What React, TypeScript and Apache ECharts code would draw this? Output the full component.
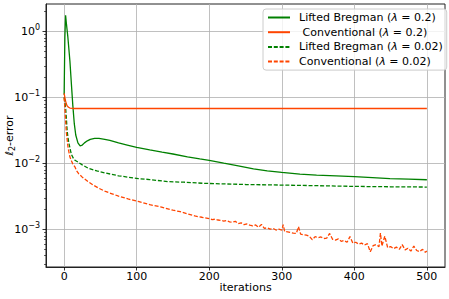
import React, { useEffect, useRef } from "react";
import * as echarts from "echarts";

const seriesNames = [
  "Lifted Bregman (λ = 0.2)",
  " Conventional (λ = 0.2)",
  "Lifted Bregman (λ = 0.02)",
  "Conventional (λ = 0.02)",
];

const lbSolidIter = [0, 1, 2, 3, 5, 8, 10, 12, 14, 16, 19, 22, 25, 28, 32, 36, 42, 48, 56, 63, 75, 87, 100, 118, 135, 150, 170, 187, 200, 220, 240, 261, 280, 300, 325, 348, 375, 400, 425, 449, 475, 500];
const lbSolidErr = [0.11, 0.8, 1.75, 1.35, 0.85, 0.35, 0.16, 0.075, 0.04, 0.027, 0.0205, 0.0185, 0.019, 0.0205, 0.022, 0.0232, 0.0239, 0.0239, 0.0232, 0.0224, 0.0205, 0.019, 0.0175, 0.016, 0.0148, 0.0139, 0.0126, 0.0117, 0.0111, 0.0101, 0.0092, 0.0083, 0.0077, 0.0073, 0.0069, 0.00667, 0.0065, 0.0063, 0.0061, 0.0059, 0.0058, 0.00566];

const convSolidIter = [0, 1, 2, 3, 4, 6, 8, 12, 20, 50, 100, 200, 300, 400, 500];
const convSolidErr = [0.115, 0.1, 0.088, 0.08, 0.075, 0.071, 0.069, 0.068, 0.068, 0.068, 0.068, 0.068, 0.068, 0.068, 0.068];

const lbDashIter = [0, 2, 3, 4, 5, 6, 8, 10, 13, 15, 19, 25, 33, 45, 56, 75, 102, 118, 143, 165, 192, 220, 250, 300, 350, 400, 450, 500];
const lbDashErr = [0.1, 0.07, 0.05, 0.033, 0.026, 0.022, 0.017, 0.0137, 0.0118, 0.0112, 0.0105, 0.0095, 0.0085, 0.0077, 0.0072, 0.0065, 0.0059, 0.0057, 0.0053, 0.0052, 0.005, 0.0049, 0.0048, 0.0047, 0.0046, 0.00449, 0.00443, 0.00439];

const convDashIter = [0, 1, 2, 3, 4, 5, 6, 8, 10, 12, 15, 17, 20, 25, 33, 40, 48, 56, 65, 75, 88, 102, 118, 133, 150, 160, 170, 180, 190,
  200, 204, 208, 212, 216, 220, 224, 228, 232, 236, 240, 244, 248, 252, 256, 260, 264, 268, 272, 276, 280, 284, 288, 292, 296,
  300, 302, 304, 308, 312, 316, 320, 323, 326, 330, 334, 338, 342, 346, 350, 354, 358, 362, 366, 370, 374, 378, 382, 386, 390,
  394, 398, 402, 406, 410, 414, 418, 422, 426, 430, 434, 436, 438, 442, 446, 450, 454, 458, 462, 466, 470, 474, 478, 482, 486,
  490, 494, 498, 500];
const convDashErr = [0.1, 0.07, 0.045, 0.03, 0.024, 0.019, 0.016, 0.0125, 0.011, 0.0098, 0.0088, 0.0078, 0.007, 0.0062, 0.0053, 0.0047, 0.0042, 0.0038, 0.0035, 0.0032, 0.0029, 0.00266, 0.00237, 0.0022, 0.00196, 0.00186, 0.00172, 0.0016, 0.00153,
  0.00146, 0.00141, 0.00143, 0.00139, 0.00137, 0.00134, 0.00137, 0.0013, 0.00129, 0.00133, 0.00123, 0.00126, 0.00118, 0.00121, 0.00116, 0.00113, 0.00117, 0.00108, 0.00119, 0.00104, 0.00106, 0.00101, 0.00104, 0.00098, 0.00101,
  0.00098, 0.00118, 0.00093, 0.00092, 0.0009, 0.00088, 0.00087, 0.0011, 0.00085, 0.00083, 0.00082, 0.00079, 0.0007, 0.00078, 0.00075, 0.00077, 0.00073, 0.00074, 0.00087, 0.00071, 0.00069, 0.00072, 0.00066, 0.00068, 0.00064,
  0.00078, 0.00062, 0.00064, 0.0006, 0.00062, 0.00058, 0.00061, 0.00046, 0.00057, 0.00059, 0.00055, 0.00088, 0.00056, 0.00079, 0.00053, 0.00055, 0.00051, 0.00054, 0.0005, 0.00059, 0.00049, 0.00052, 0.00047, 0.00056, 0.00048,
  0.00046, 0.0005, 0.00045, 0.00047];

const xTicks = [0, 100, 200, 300, 400, 500];
const yTicks = [0.001, 0.01, 0.1, 1];
const yMinorTicks = [
  0.0003, 0.0004, 0.0005, 0.0006, 0.0007, 0.0008, 0.0009,
  0.002, 0.003, 0.004, 0.005, 0.006, 0.007, 0.008, 0.009,
  0.02, 0.03, 0.04, 0.05, 0.06, 0.07, 0.08, 0.09,
  0.2, 0.3, 0.4, 0.5, 0.6, 0.7, 0.8, 0.9, 2,
];

const GREEN = "#008000";
const ORANGE = "#ff4500";
const FONT = "DejaVu Sans";

const zip = (xs: number[], ys: number[]) => xs.map((x, i) => [x, ys[i]]);

const supMinus = (n: number) => (n < 0 ? "−" + Math.abs(n) : String(n));

export default function App() {
  const ref = useRef<HTMLDivElement>(null);
  useEffect(() => {
    if (!ref.current) return;
    const chart = echarts.init(ref.current, null, { renderer: "svg" });
    const tickLine = { color: "#000", width: 0.8 };
    const yMin = 2.7e-4;
    const yMax = 2.6;
    const lineSeries = (name: string, data: number[][], color: string, dashed: boolean) => ({
      name,
      type: "line",
      data,
      showSymbol: false,
      symbol: "none",
      lineStyle: dashed ? { color, width: 1.3, type: [4, 1.8] } : { color, width: 1.3 },
      itemStyle: { color },
    });
    chart.setOption({
      animation: false,
      backgroundColor: "#fff",
      textStyle: { fontFamily: FONT },
      grid: {
        left: 46,
        right: 4,
        top: 4,
        bottom: 32,
        containLabel: false,
        outerBoundsMode: "none",
        show: true,
        borderColor: "#222",
        borderWidth: 1,
        backgroundColor: "transparent",
      },
      xAxis: {
        type: "value",
        min: -25,
        max: 525,
        name: "iterations",
        nameLocation: "middle",
        nameGap: 15,
        nameMoveOverlap: false,
        nameTextStyle: { fontFamily: FONT, fontSize: 11, color: "#000" },
        axisLine: { show: true, onZero: false, lineStyle: { color: "#222", width: 1 } },
        axisTick: { show: true, length: 3.5, lineStyle: tickLine, customValues: xTicks },
        axisLabel: { fontFamily: FONT, fontSize: 11, color: "#000", margin: 4, customValues: xTicks },
        splitLine: { show: true, lineStyle: { color: "#b0b0b0", width: 0.8 } },
      },
      yAxis: [
        {
          type: "log",
          logBase: 10,
          min: yMin,
          max: yMax,
          name: "{l|ℓ}{s|2}{n|-error}",
          nameLocation: "middle",
          nameGap: 30,
          nameMoveOverlap: false,
          nameTextStyle: {
            color: "#000",
            rich: {
              l: { fontFamily: FONT, fontSize: 11, fontStyle: "italic", lineHeight: 14, color: "#000" },
              s: { fontFamily: FONT, fontSize: 8, lineHeight: 8, verticalAlign: "bottom", color: "#000" },
              n: { fontFamily: FONT, fontSize: 11, lineHeight: 14, color: "#000" },
            },
          },
          axisLine: { show: true, onZero: false, lineStyle: { color: "#222", width: 1 } },
          axisTick: { show: true, length: 3.5, lineStyle: tickLine, customValues: yTicks },
          axisLabel: {
            margin: 6,
            customValues: yTicks,
            formatter: (v: number) => `{b|10}{s|${supMinus(Math.round(Math.log10(v)))}}`,
            rich: {
              b: { fontFamily: FONT, fontSize: 11, lineHeight: 15, color: "#000" },
              s: { fontFamily: FONT, fontSize: 8, lineHeight: 8, verticalAlign: "top", color: "#000" },
            },
          },
          splitLine: { show: true, lineStyle: { color: "#b0b0b0", width: 0.8 } },
        },
        {
          type: "log",
          logBase: 10,
          min: yMin,
          max: yMax,
          position: "left",
          axisLine: { show: false, onZero: false },
          axisLabel: { show: false },
          splitLine: { show: false },
          axisTick: { show: true, length: 2, lineStyle: { color: "#000", width: 0.6 }, customValues: yMinorTicks },
        },
      ],
      legend: {
        left: 263,
        top: 9,
        orient: "vertical",
        padding: [3, 4, 3, 4],
        itemGap: 3.7,
        itemWidth: 22,
        itemHeight: 12,
        backgroundColor: "rgba(255,255,255,0.8)",
        borderColor: "#cccccc",
        borderWidth: 1,
        borderRadius: 3,
        data: seriesNames,
        itemStyle: { color: "transparent", borderWidth: 0, opacity: 0 },
        formatter: (name: string) => name.replace("λ", "{it|λ}"),
        textStyle: {
          fontFamily: FONT,
          fontSize: 11,
          color: "#000",
          padding: [0, 0, 0, 4],
          rich: {
            it: { fontFamily: FONT, fontSize: 11, fontStyle: "italic", color: "#000" },
          },
        },
      },
      series: [
        lineSeries(seriesNames[0], zip(lbSolidIter, lbSolidErr), GREEN, false),
        lineSeries(seriesNames[1], zip(convSolidIter, convSolidErr), ORANGE, false),
        lineSeries(seriesNames[2], zip(lbDashIter, lbDashErr), GREEN, true),
        lineSeries(seriesNames[3], zip(convDashIter, convDashErr), ORANGE, true),
      ],
    });
    return () => chart.dispose();
  }, []);
  return (
    <div
      ref={ref}
      style={{ position: "fixed", left: 0, top: 0, width: 449, height: 299 }}
    />
  );
}
